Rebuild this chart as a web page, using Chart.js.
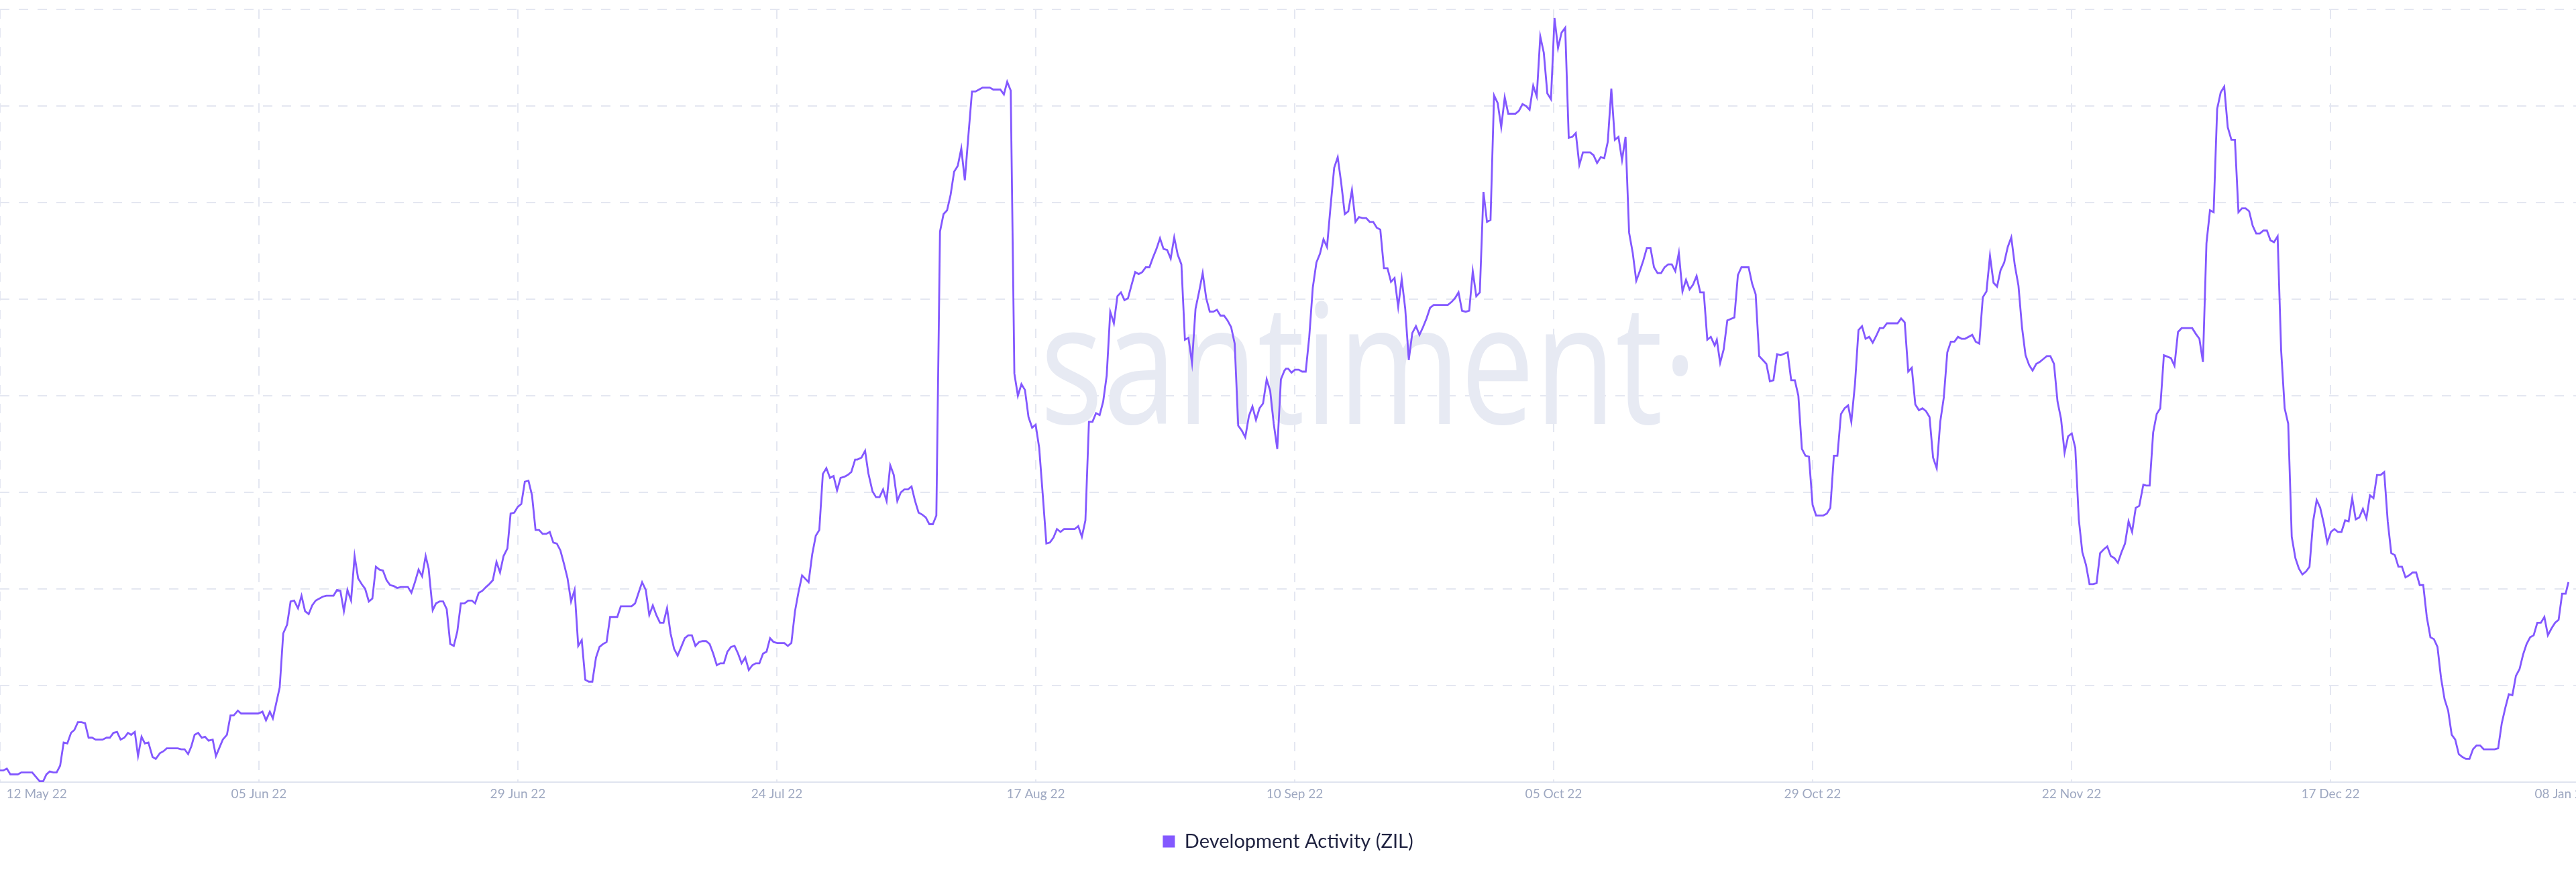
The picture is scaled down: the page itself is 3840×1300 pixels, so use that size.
<!DOCTYPE html>
<html>
<head>
<meta charset="utf-8">
<script src="https://cdn.jsdelivr.net/npm/chart.js@4.4.1/dist/chart.umd.min.js"></script>
<style>
  html, body { margin: 0; padding: 0; background: #ffffff; overflow: hidden; }
  #wrap { position: relative; width: 3840px; height: 1300px; overflow: hidden; background: #ffffff; }
  canvas { display: block; position: absolute; left: -26px; top: 0; }
</style>
</head>
<body>
<div id="wrap"><canvas id="c" width="3892" height="1300"></canvas></div>
<script>
// ---- data (x = days since 12 May 2022, y = development activity) ----
const seriesLabel = 'Development Activity (ZIL)';

const days = [
  0, 0.31, 0.64, 0.97, 1.66, 1.99, 3.01, 3.70, 4.04, 4.34,
  4.65, 4.98, 5.29, 5.62, 5.95, 6.29, 6.64, 6.95, 7.28, 7.61,
  7.95, 8.28, 8.61, 8.94, 9.58, 9.96, 10.27, 10.6, 10.94, 11.27,
  11.62, 11.96, 12.26, 12.6, 12.9, 13.23, 13.54, 13.87, 14.26, 14.56,
  14.95, 15.28, 15.58, 16.61, 16.94, 17.25, 17.58, 17.88, 18.19, 18.52,
  18.86, 19.16, 19.49, 19.88, 20.18, 20.52, 20.82, 21.21, 21.54, 21.84,
  22.23, 22.53, 24.14, 24.53, 24.86, 25.22, 25.5, 25.8, 26.14, 26.47,
  26.83, 27.16, 27.49, 27.85, 28.18, 28.51, 28.85, 29.18, 29.51, 30.17,
  30.51, 31.17, 31.5, 31.81, 32.14, 32.47, 32.81, 33.14, 33.47, 33.8,
  34.13, 34.47, 34.8, 35.13, 35.46, 35.79, 36.13, 36.46, 36.79, 37.12,
  37.46, 38.12, 38.45, 38.78, 39.12, 39.45, 39.78,
  40.06, 40.44, 40.75, 41.08, 41.41, 41.75, 42.08, 42.41, 42.74, 43.07,
  43.41, 43.76, 44.1, 44.4, 44.74, 45.07, 45.43, 45.73, 46.06, 46.4,
  46.73, 47.06, 47.42, 47.72, 48.06, 48.39, 48.72, 49.05, 49.39, 49.72,
  50.05, 50.38, 50.71, 51.05, 51.38, 51.71, 52.04, 52.37, 52.71, 53.04,
  53.37, 53.7, 54.04, 54.37, 54.7, 55.03, 55.36, 55.7, 56.03, 56.36,
  56.69, 57.02, 57.69, 58.02, 59.02, 59.35, 59.68, 60.01, 60.35, 60.68,
  61.01, 61.34, 61.68, 62.01, 62.34, 62.67, 63.0, 63.33, 63.67, 64.0,
  64.33, 64.66, 64.99, 65.33, 65.66, 65.99, 66.32, 66.66, 66.99, 67.32,
  67.65, 67.98, 68.32, 68.65, 68.98, 69.31, 69.65, 69.98, 70.31, 70.64,
  70.97, 71.31, 71.64, 71.97, 72.3, 72.64, 73.3, 73.63, 73.96, 74.3,
  74.63, 74.96, 75.57, 75.91, 76.24, 76.57, 76.9, 77.23, 77.57, 77.9,
  78.23, 78.56, 78.9, 79.23, 79.56, 79.92,
  80.13, 80.51, 80.85, 81.15, 81.54, 81.87, 82.2, 82.53, 82.86, 83.2,
  83.53, 83.86, 84.19, 84.52, 84.86, 85.19, 85.52, 85.85, 86.18, 86.52,
  86.85, 87.18, 87.51, 87.85, 88.18, 88.51, 88.84, 89.17, 89.51, 89.84,
  90.17, 90.5, 90.84, 91.17, 91.5, 91.83, 92.5, 92.83, 93.49, 93.82,
  94.13, 94.46, 94.8, 95.13, 95.46, 95.79, 96.12, 96.46, 96.79, 97.12,
  97.45, 97.79, 98.12, 98.45, 98.78, 99.11, 99.45, 100.44, 100.77, 101.11,
  101.44, 101.77, 102.1, 102.43, 102.77, 103.1, 103.43, 103.76, 104.1, 104.43,
  104.76, 105.09, 105.42, 105.76, 106.09, 106.42, 106.75, 107.08, 107.42, 107.75,
  108.08, 108.41, 108.74, 109.08, 109.41, 109.74, 110.07, 110.41, 110.74, 111.07,
  111.4, 111.73, 112.07, 112.4, 112.73, 113.06, 113.4, 113.73, 114.06, 114.39,
  114.72, 115.06, 115.39, 115.72, 116.05, 116.38, 116.72, 117.05, 117.38, 117.71,
  118.04, 118.38, 118.71, 119.04, 119.37, 119.71, 120.04,
  120.19, 120.39, 120.7, 121.03, 121.37, 121.7, 122.03, 122.36, 122.69, 123.03,
  123.36, 123.69, 124.02, 124.35, 124.69, 125.02, 125.35, 125.68, 126.01, 126.35,
  126.68, 127.01, 127.34, 127.68, 128.01, 128.34, 128.67, 129.0, 129.34, 129.67,
  130.0, 130.33, 130.67, 131.0, 131.33, 131.66, 131.99, 132.33, 132.66, 132.99,
  133.32, 133.65, 133.99, 135.31, 135.65, 135.98, 136.31, 136.64, 136.98, 137.31,
  137.64, 137.97, 138.3, 138.64, 138.97, 139.3, 139.63, 139.97, 140.3, 140.63,
  140.96, 141.63, 141.96, 142.29, 142.62, 142.95, 143.29, 143.62, 143.95, 144.28,
  144.61, 144.95, 145.28, 145.61, 145.94, 146.28, 146.61, 146.94, 147.27, 147.6,
  147.94, 148.6, 148.93, 149.26, 149.6, 149.93, 150.26, 150.59, 150.92, 151.26,
  151.59, 151.92, 152.25, 152.59, 152.92, 153.25, 153.58, 153.91, 154.25, 154.58,
  154.91, 155.24, 155.57, 155.91, 156.24, 156.57, 156.9, 157.24, 157.57, 157.9,
  158.23, 158.56, 158.9, 159.23, 159.56, 159.89,
  160.25, 160.45, 160.76, 161.09, 161.43, 162.09, 162.42, 162.75, 163.42, 163.75,
  164.08, 164.41, 164.75, 165.08, 165.41, 165.74, 166.08, 166.41, 167.07, 167.4,
  167.74, 168.07, 168.4, 168.73, 169.06, 169.4, 169.73, 170.39, 170.73, 171.06,
  171.39, 171.72, 172.05, 172.39, 172.72, 173.02, 173.36, 173.69, 174.02, 174.35,
  174.69, 175.02, 175.35, 175.68, 176.01, 176.35, 177.34, 177.67, 178.01, 178.34,
  178.67, 179.0, 179.34, 179.67, 180.0, 180.33, 180.66, 181.0, 181.33, 181.66,
  181.99, 182.32, 182.66, 182.99, 183.32, 183.65, 184.32, 184.65, 184.98, 185.31,
  185.65, 185.98, 186.31, 186.64, 186.97, 187.31, 187.64, 187.97, 188.3, 188.64,
  188.97, 189.3, 189.63, 189.96, 190.3, 190.63, 190.96, 191.29, 191.62, 191.96,
  192.29, 192.62, 192.95, 193.28, 193.62, 193.95, 194.28, 194.61, 194.95, 195.28,
  195.61, 195.94, 196.27, 196.61, 196.94, 197.27, 197.6, 197.93, 198.27, 198.6,
  198.93, 199.26, 199.6, 199.93,
  200.31, 200.57, 200.9, 201.23, 201.56, 201.89, 202.23, 202.89, 203.22, 203.55,
  203.89, 204.88, 205.22, 205.55, 205.88, 206.21, 206.54, 206.88, 207.21, 207.54,
  207.87, 208.2, 208.54, 208.87, 209.2, 209.53, 209.87, 210.2, 210.53, 210.86,
  211.2, 211.53, 211.86, 212.19, 212.52, 212.86, 213.19, 213.52, 213.85, 214.18,
  214.52, 214.85, 215.18, 215.51, 215.84, 216.18, 216.51, 216.84, 217.17, 217.5,
  217.84, 218.17, 218.5, 218.83, 219.17, 219.5, 219.83, 220.16, 220.49, 220.83,
  221.16, 221.49, 221.82, 222.15, 222.49, 222.82, 223.15, 223.48, 223.82, 224.15,
  224.48, 224.81, 225.14, 225.48, 225.81, 226.14, 226.47, 226.8, 227.14, 227.47,
  227.8, 228.13, 228.46, 228.8, 229.13, 229.46, 229.79, 230.13, 230.46, 230.79,
  231.12, 231.45, 231.79, 232.12, 233.14, 233.47, 233.81, 234.14, 234.47, 234.8,
  235.13, 235.47, 235.8, 236.13, 236.46, 236.79, 237.13, 237.46, 237.79, 238.12,
  238.45, 238.79, 239.12, 239.45, 239.78, 240.04
];

const activity = [
  1.2, 1.2, 1.4, 0.8, 0.8, 1.0, 1.0, 0.1, 0.1, 0.8,
  1.1, 1.0, 1.0, 1.7, 4.1, 4.0, 5.1, 5.4, 6.2, 6.2,
  6.1, 4.6, 4.6, 4.4, 4.4, 4.6, 4.6, 5.1, 5.2, 4.4,
  4.6, 5.1, 4.9, 5.2, 2.7, 4.7, 4.0, 4.1, 2.6, 2.4,
  3.0, 3.2, 3.5, 3.5, 3.4, 3.4, 2.9, 3.7, 4.9, 5.1,
  4.6, 4.7, 4.3, 4.4, 2.7, 3.6, 4.4, 4.9, 6.9, 6.9,
  7.4, 7.1, 7.1, 7.3, 6.4, 7.3, 6.6, 8.1, 9.8, 15.4,
  16.3, 18.7, 18.8, 18.0, 19.3, 17.7, 17.4, 18.3, 18.8, 19.2,
  19.3, 19.3, 19.9, 19.8, 17.7, 19.9, 18.8, 23.4, 21.1, 20.5,
  20.0, 18.7, 19.0, 22.3, 22.0, 21.9, 20.9, 20.4, 20.3, 20.1,
  20.2, 20.2, 19.6, 20.7, 22.0, 21.3, 23.4,
  22.1, 17.8, 18.5, 18.7, 18.7, 17.9, 14.3, 14.1, 15.6, 18.5,
  18.5, 18.8, 18.8, 18.5, 19.6, 19.8, 20.2, 20.5, 20.9, 22.8,
  21.7, 23.4, 24.2, 27.8, 27.9, 28.5, 28.8, 31.1, 31.2, 29.7,
  26.1, 26.1, 25.7, 25.7, 25.9, 24.8, 24.7, 24.0, 22.6, 21.1,
  18.7, 19.9, 14.1, 14.7, 10.6, 10.4, 10.4, 12.9, 14.0, 14.3,
  14.5, 17.1, 17.1, 18.2, 18.2, 18.5, 19.6, 20.7, 19.9, 17.3,
  18.3, 17.3, 16.5, 16.5, 18.0, 15.4, 13.8, 13.1, 14.0, 14.9,
  15.2, 15.2, 14.1, 14.5, 14.6, 14.6, 14.3, 13.3, 12.1, 12.3,
  12.3, 13.5, 14.0, 14.1, 13.3, 12.3, 12.9, 11.6, 12.1, 12.3,
  12.3, 13.3, 13.5, 14.9, 14.5, 14.4, 14.4, 14.1, 14.4, 17.7,
  19.7, 21.4, 20.7, 23.6, 25.5, 26.1, 31.9, 32.5, 31.5, 31.7,
  30.2, 31.5, 31.6, 31.8, 32.1, 33.4,
  33.4, 33.6, 34.3, 32.0, 30.1, 29.5, 29.5, 30.3, 29.1, 32.8,
  31.8, 29.1, 30.0, 30.3, 30.3, 30.6, 29.1, 27.9, 27.7, 27.4,
  26.7, 26.7, 27.6, 57.0, 58.8, 59.2, 60.8, 63.2, 63.8, 65.6,
  62.3, 66.9, 71.5, 71.5, 71.7, 71.9, 71.9, 71.7, 71.7, 71.2,
  72.5, 71.6, 42.3, 40.0, 41.2, 40.6, 37.8, 36.7, 37.0, 34.6,
  29.8, 24.7, 24.8, 25.3, 26.2, 25.9, 26.2, 26.2, 26.5, 25.4,
  27.1, 37.3, 37.3, 38.2, 38.0, 39.4, 42.1, 48.7, 47.5, 50.3,
  50.7, 49.9, 50.1, 51.5, 52.8, 52.6, 52.8, 53.3, 53.3, 54.3,
  55.2, 56.3, 55.2, 55.1, 54.2, 56.4, 54.6, 53.6, 45.8, 46.0,
  43.4, 49.0, 50.8, 52.7, 50.1, 48.7, 48.7, 48.9, 48.3, 48.3,
  47.8, 47.1, 45.4, 36.9, 36.4, 35.7, 37.9, 38.9, 37.5, 38.7,
  39.2, 41.7, 40.5, 37.1, 34.5, 41.7, 42.6,
  42.8, 42.8, 42.4, 42.7, 42.7, 42.5, 42.5, 46.1, 51.2, 53.8,
  54.7, 56.2, 55.4, 59.6, 63.6, 64.7, 62.0, 58.8, 59.1, 61.3,
  58.0, 58.5, 58.4, 58.4, 58.0, 58.0, 57.4, 57.2, 53.2, 53.2,
  51.8, 52.2, 49.2, 52.1, 49.0, 43.7, 46.5, 47.2, 46.3, 47.1,
  48.0, 49.1, 49.4, 49.4, 49.7, 50.1, 50.7, 48.8, 48.7, 48.8,
  52.9, 50.3, 50.7, 61.1, 58.0, 58.2, 71.1, 70.3, 67.8, 70.9,
  69.2, 69.2, 69.5, 70.2, 70.0, 69.6, 72.1, 71.0, 77.2, 75.5,
  71.3, 70.7, 79.1, 76.0, 77.6, 78.1, 66.7, 66.8, 67.2, 63.9,
  65.2, 65.2, 64.9, 64.1, 64.7, 64.6, 66.3, 71.8, 66.5, 66.8,
  64.4, 66.8, 56.9, 54.8, 51.9, 52.9, 54.0, 55.3, 55.3, 53.3,
  52.7, 52.7, 53.3, 53.6, 53.6, 52.9, 54.8, 50.8, 52.0, 51.0,
  51.5, 52.4, 50.7, 50.7, 45.8, 46.1,
  45.2, 45.8, 43.4, 44.8, 47.8, 48.1, 52.5, 53.3, 53.3, 51.6,
  50.5, 44.1, 43.7, 43.3, 41.5, 41.6, 44.3, 44.2, 44.5, 41.6,
  41.6, 40.0, 34.5, 33.8, 33.7, 28.7, 27.6, 27.6, 27.8, 28.4,
  33.8, 33.8, 38.1, 38.7, 39.0, 37.3, 41.2, 46.8, 47.2, 45.9,
  46.1, 45.5, 46.2, 47.0, 47.0, 47.5, 47.5, 48.0, 47.6, 42.5,
  42.9, 39.1, 38.5, 38.7, 38.4, 37.8, 33.6, 32.5, 37.3, 39.8,
  44.5, 45.6, 45.6, 46.1, 45.9, 45.9, 46.3, 45.6, 45.4, 50.2,
  50.8, 54.5, 51.7, 51.3, 53.0, 53.8, 55.4, 56.4, 53.5, 51.4,
  47.1, 44.2, 43.2, 42.6, 43.3, 43.5, 43.8, 44.1, 44.1, 43.3,
  39.4, 37.6, 34.1, 35.8, 36.1, 34.6, 27.2, 23.8, 22.5, 20.5,
  20.5, 20.6, 23.7, 24.1, 24.4, 23.4, 23.2, 22.7, 23.8, 24.7,
  27.0, 25.9, 28.4, 28.6,
  30.8, 30.7, 30.7, 36.2, 38.1, 38.7, 44.2, 43.9, 43.1, 46.6,
  47.0, 47.0, 46.4, 45.9, 43.5, 55.8, 59.2, 59.0, 69.7, 71.4,
  72.0, 67.8, 66.5, 66.5, 59.0, 59.4, 59.4, 59.1, 57.6, 56.8,
  56.8, 57.1, 57.1, 56.1, 55.9, 56.5, 44.7, 38.7, 37.1, 25.4,
  23.2, 22.1, 21.5, 21.8, 22.3, 27.0, 29.2, 28.4, 26.8, 24.8,
  25.9, 26.2, 25.9, 25.9, 27.1, 27.0, 29.4, 27.2, 27.4, 28.3,
  27.3, 29.7, 29.4, 31.8, 31.8, 32.1, 27.0, 23.7, 23.5, 22.3,
  22.3, 21.2, 21.4, 21.7, 21.7, 20.4, 20.4, 17.1, 15.0, 14.8,
  14.0, 10.8, 8.6, 7.4, 4.9, 4.4, 2.9, 2.6, 2.4, 2.4,
  3.4, 3.8, 3.8, 3.4, 3.4, 3.5, 6.1, 7.7, 9.1, 9.0,
  11.0, 11.7, 13.2, 14.3, 15.0, 15.2, 16.5, 16.5, 17.1, 15.2,
  15.9, 16.5, 16.8, 19.5, 19.5, 20.7
];

// x-axis ticks (days since 12 May 2022) and their labels
const tickDays = [0, 24.2, 48.4, 72.6, 96.8, 121.0, 145.2, 169.4, 193.6, 217.8, 242.0];
const tickLabels = ['\u200212 May 22', '05 Jun 22', '29 Jun 22', '24 Jul 22', '17 Aug 22', '10 Sep 22',
                    '05 Oct 22', '29 Oct 22', '22 Nov 22', '17 Dec 22', '08 Jan 23'];

// y-axis range (labels hidden in the original)
const yMin = 0, yMax = 80, yStep = 10;

// ---- styles ----
const LINE = '#8358ff';
const GRID = '#e4e7f1';

const points = days.map((d, i) => ({ x: d, y: activity[i] }));

const watermark = {
  id: 'watermark',
  beforeDatasetsDraw(chart) {
    const ctx = chart.ctx;
    const left = chart.chartArea.left;
    ctx.save();
    ctx.font = '400 249px "Open Sans", "Noto Sans", sans-serif';
    ctx.fillStyle = '#e7eaf3';
    ctx.textBaseline = 'alphabetic';
    ctx.textAlign = 'left';
    const m = ctx.measureText('santiment');
    const ink = m.actualBoundingBoxLeft + m.actualBoundingBoxRight;
    const sx = 915 / ink;
    ctx.translate(left + 1560, 632);
    ctx.scale(sx, 1);
    ctx.fillText('santiment\u00B7', m.actualBoundingBoxLeft, 0);
    ctx.restore();
  }
};

new Chart(document.getElementById('c'), {
  type: 'line',
  data: {
    datasets: [{
      label: seriesLabel,
      data: points,
      borderColor: LINE,
      backgroundColor: LINE,
      borderWidth: 2.8,
      pointRadius: 0,
      pointHoverRadius: 0,
      tension: 0,
      fill: false
    }]
  },
  plugins: [watermark],
  options: {
    responsive: false,
    animation: false,
    events: [],
    layout: { autoPadding: false, padding: { top: 14, right: 0, left: 0, bottom: 21 } },
    plugins: {
      tooltip: { enabled: false },
      legend: {
        position: 'bottom',
        align: 'center',
        labels: {
          boxWidth: 18,
          boxHeight: 18,
          padding: 10,
          color: '#1f2240',
          font: { family: 'Lato', size: 29 },
          generateLabels: (chart) => Chart.defaults.plugins.legend.labels.generateLabels(chart)
            .map(l => Object.assign(l, { lineWidth: 0 }))
        }
      }
    },
    scales: {
      x: {
        type: 'linear',
        min: tickDays[0],
        max: tickDays[tickDays.length - 1],
        bounds: 'data',
        afterBuildTicks: (scale) => { scale.ticks = tickDays.map(v => ({ value: v })); },
        afterFit: (scale) => { scale.height = 64; },
        ticks: {
          autoSkip: false,
          maxRotation: 0,
          minRotation: 0,
          align: 'inner',
          padding: 6,
          color: '#9ea8c1',
          font: { family: 'Lato', size: 19 },
          callback: (value, index) => tickLabels[index]
        },
        grid: { color: GRID, lineWidth: 2, drawTicks: false },
        border: { display: true, color: '#e0e4ef', width: 2, dash: [14, 14] }
      },
      y: {
        min: yMin,
        max: yMax,
        afterFit: (scale) => { scale.width = 26; },
        ticks: { display: false, stepSize: yStep },
        grid: { color: GRID, lineWidth: 2, drawTicks: false },
        border: { display: false, dash: [14, 14] }
      }
    }
  }
});
</script>
</body>
</html>
